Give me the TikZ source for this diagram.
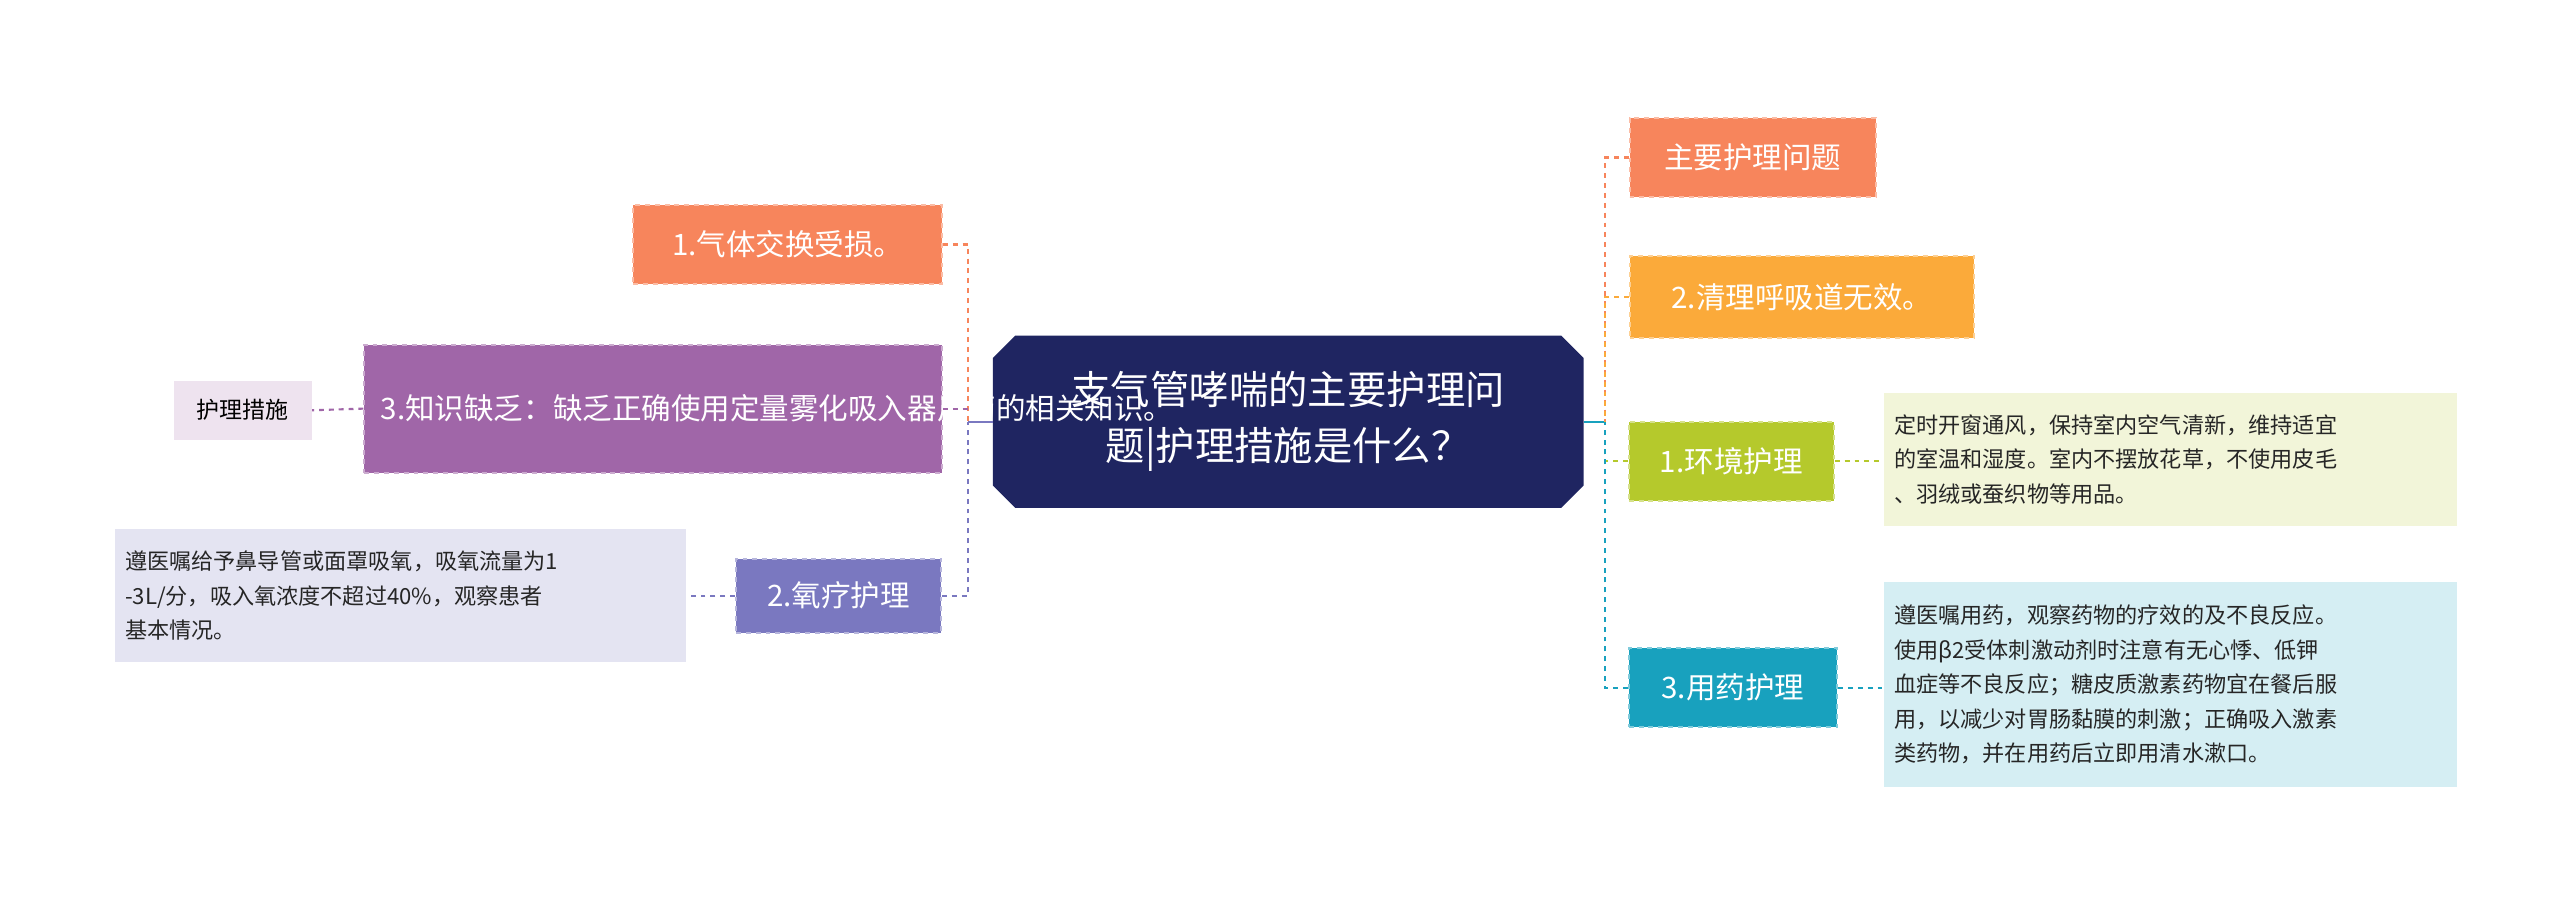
\documentclass[tikz,border=0pt]{standalone}
\usepackage{fontspec}
\setmainfont{Noto Sans CJK SC}
\usetikzlibrary{shapes.geometric,shapes.misc}
\definecolor{navy}{HTML}{1F2561}
\definecolor{corange}{HTML}{F7855C}
\definecolor{cyellow}{HTML}{FBAA3A}
\definecolor{cpurple}{HTML}{A066A8}
\definecolor{cviolet}{HTML}{7A78C0}
\definecolor{clime}{HTML}{B5C92C}
\definecolor{cteal}{HTML}{18A1BE}
\begin{document}
\begin{tikzpicture}[x=1pt,y=-1pt,
  box/.style={draw=#1!55!white,fill=#1,dashed,line width=1.2pt,inner sep=0pt,text=white,font=\fontsize{18}{24}\selectfont},
  note/.style={fill=#1,inner sep=6pt,align=left,font=\fontsize{13.5}{21}\selectfont,text=black!85},
  link/.style={draw=#1,dashed,line width=1.3pt}]
\useasboundingbox (0,0) rectangle (1560,549);
\fill[white] (0,0) rectangle (1560,549);
% center
\node[fill=navy,text=white,font=\fontsize{24}{34}\selectfont,align=center,minimum width=360,minimum height=105,
  chamfered rectangle,chamfered rectangle xsep=10pt,inner sep=0pt] (c) at (785,257) {支气管哮喘的主要护理问\\题|护理措施是什么？};
% left
\node[box=corange,minimum width=188,minimum height=48] (l1) at (480,149) {1.气体交换受损。};
\node[box=cpurple,minimum width=352,minimum height=78,align=left,text width=332] (l2) at (398,249) {3.知识缺乏：缺乏正确使用定量雾化吸入器用药的相关知识。};
\node[fill=cpurple!18,minimum width=84,minimum height=36,inner sep=0pt,font=\fontsize{14}{18}\selectfont] (l2a) at (148,250) {护理措施};
\node[box=cviolet,minimum width=125,minimum height=45] (l3) at (511,363) {2.氧疗护理};
\node[note=cviolet!20,text width=336,minimum height=81,anchor=west] (l3a) at (70,363) {遵医嘱给予鼻导管或面罩吸氧，吸氧流量为1\\-3L/分，吸入氧浓度不超过40\%，观察患者\\基本情况。};
% right
\node[box=corange,minimum width=150,minimum height=48] (r1) at (1068,96) {主要护理问题};
\node[box=cyellow,minimum width=210,minimum height=50] (r2) at (1098,181) {2.清理呼吸道无效。};
\node[box=clime,minimum width=125,minimum height=48] (r3) at (1055,281) {1.环境护理};
\node[note=clime!18,text width=337,minimum height=81,anchor=west] (r3a) at (1148,280) {定时开窗通风，保持室内空气清新，维持适宜\\的室温和湿度。室内不摆放花草，不使用皮毛\\、羽绒或蚕织物等用品。};
\node[box=cteal,minimum width=127,minimum height=48] (r4) at (1056,419) {3.用药护理};
\node[note=cteal!18,text width=337,minimum height=125,anchor=west] (r4a) at (1148,417) {遵医嘱用药，观察药物的疗效的及不良反应。\\使用β2受体刺激动剂时注意有无心悸、低钾\\血症等不良反应；糖皮质激素药物宜在餐后服\\用，以减少对胃肠黏膜的刺激；正确吸入激素\\类药物，并在用药后立即用清水漱口。};
% connectors
\coordinate (lj) at (590,257);
\coordinate (rj) at (978,257);
\draw[line width=1.3pt,draw=cviolet] (c.west) -- (lj);
\draw[line width=1.3pt,draw=cteal] (c.east) -- (rj);
\draw[link=corange] (l1.east) -| (lj);
\draw[link=cpurple] (l2.east) -- (l2.east -| lj);
\draw[link=cviolet] (l3.east) -| (lj);
\draw[link=cpurple] (l2.west) -- (l2a.east);
\draw[link=cviolet] (l3.west) -- (l3a.east);
\draw[link=corange] (r1.west) -| (rj);
\draw[link=cyellow] (r2.west) -| (rj);
\draw[link=clime] (r3.west) -| (rj);
\draw[link=cteal] (r4.west) -| (rj);
\draw[link=clime] (r3.east) -- (r3a.west |- r3.east);
\draw[link=cteal] (r4.east) -- (r4a.west |- r4.east);
\end{tikzpicture}
\end{document}
